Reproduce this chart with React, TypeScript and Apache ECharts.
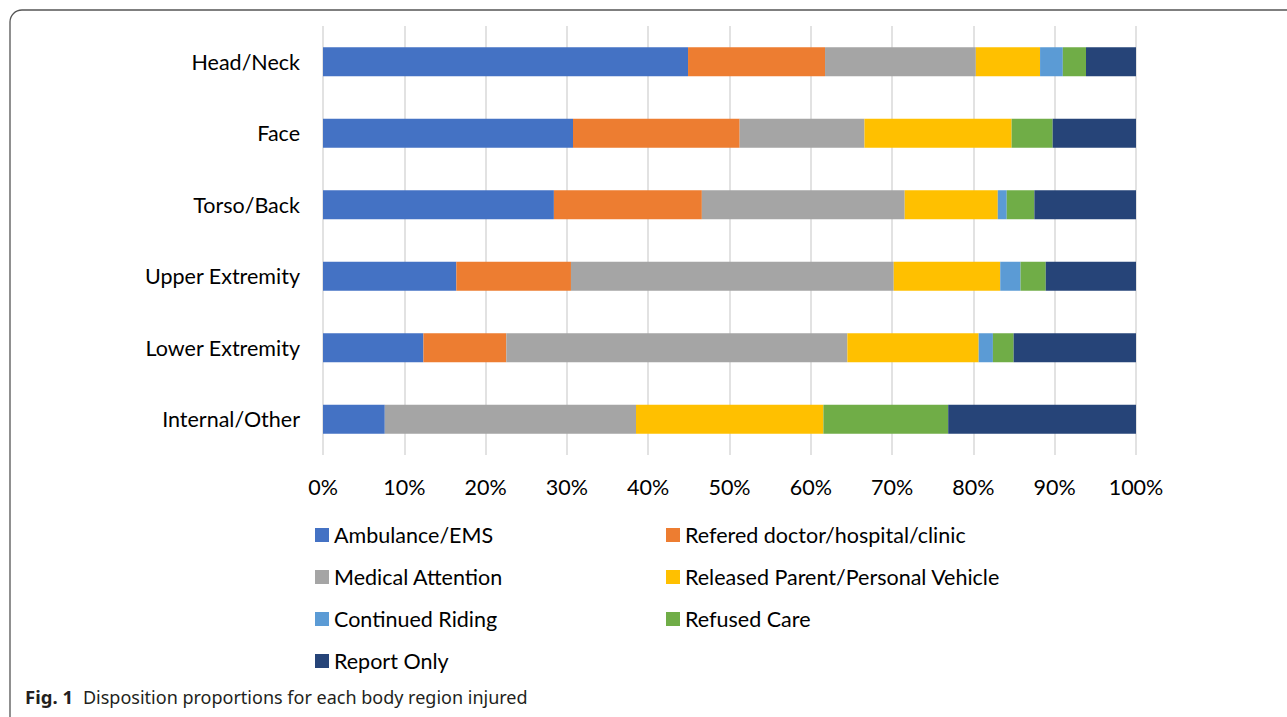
import React, { useEffect, useRef } from "react";
import * as echarts from "echarts";

const categories = ["Head/Neck", "Face", "Torso/Back", "Upper Extremity", "Lower Extremity", "Internal/Other"];
const seriesNames = [
  "Ambulance/EMS",
  "Refered doctor/hospital/clinic",
  "Medical Attention",
  "Released Parent/Personal Vehicle",
  "Continued Riding",
  "Refused Care",
  "Report Only",
];
const ambulance = [44.9, 30.75, 28.4, 16.4, 12.35, 7.6];
const refered = [16.85, 20.5, 18.2, 14.1, 10.2, 0];
const medical = [18.55, 15.35, 24.95, 39.7, 41.95, 30.9];
const released = [7.9, 18.1, 11.45, 13.1, 16.15, 23.05];
const continued = [2.8, 0, 1.1, 2.5, 1.75, 0];
const refused = [2.85, 5.05, 3.4, 3.1, 2.55, 15.35];
const reportOnly = [6.15, 10.25, 12.5, 11.1, 15.05, 23.1];
const xTicks = [0, 10, 20, 30, 40, 50, 60, 70, 80, 90, 100];

const colors = ["#4472C4", "#ED7D31", "#A5A5A5", "#FFC000", "#5B9BD5", "#70AD47", "#264478"];
const values = [ambulance, refered, medical, released, continued, refused, reportOnly];

const FONT = "Lato";

export default function App() {
  const ref = useRef<HTMLDivElement>(null);
  useEffect(() => {
    if (!ref.current) return;
    const chart = echarts.init(ref.current, null, { renderer: "svg" });
    const legendText = { fontFamily: FONT, fontSize: 21.5, color: "#000", lineHeight: 22 };
    chart.setOption({
      animation: false,
      backgroundColor: "#fff",
      grid: { left: 323, right: 151, top: 26, bottom: 262 },
      xAxis: {
        type: "value",
        min: xTicks[0],
        max: xTicks[xTicks.length - 1],
        interval: 10,
        axisLine: { show: false },
        axisTick: { show: false },
        axisLabel: { formatter: "{value}%", fontFamily: FONT, fontSize: 21.5, color: "#000", margin: 21 },
        splitLine: { show: true, lineStyle: { color: "#D9D9D9", width: 1.5 } },
      },
      yAxis: {
        type: "category",
        data: categories,
        inverse: true,
        axisLine: { show: false },
        axisTick: { show: false },
        axisLabel: { fontFamily: FONT, fontSize: 21.5, color: "#000", margin: 23 },
      },
      legend: [
        {
          orient: "vertical",
          left: 315,
          top: 524,
          padding: 0,
          itemWidth: 14,
          itemHeight: 14,
          itemGap: 20,
          icon: "rect",
          textStyle: legendText,
          data: [seriesNames[0], seriesNames[2], seriesNames[4], seriesNames[6]],
        },
        {
          orient: "vertical",
          left: 666,
          top: 524,
          padding: 0,
          itemWidth: 14,
          itemHeight: 14,
          itemGap: 20,
          icon: "rect",
          textStyle: legendText,
          data: [seriesNames[1], seriesNames[3], seriesNames[5]],
        },
      ],
      series: seriesNames.map((name, i) => ({
        name,
        type: "bar",
        stack: "total",
        barWidth: 29,
        itemStyle: { color: colors[i] },
        data: values[i],
      })),
      graphic: [
        {
          type: "rect",
          shape: { x: 10, y: 10, width: 1320, height: 740, r: 12 },
          style: { fill: "none", stroke: "#555", lineWidth: 1.3 },
          silent: true,
        },
        {
          type: "text",
          left: 25,
          top: 687,
          style: {
            text: "{b|Fig. 1}   {n|Disposition proportions for each body region injured}",
            rich: {
              b: { fontFamily: "Noto Sans", fontWeight: "bold", fontSize: 18.5, fill: "#231F20" },
              n: { fontFamily: "Noto Sans", fontSize: 18, fill: "#231F20" },
            },
          },
        },
      ],
    });
    return () => chart.dispose();
  }, []);
  return (
    <div
      ref={ref}
      style={{ position: "fixed", left: 0, top: 0, width: 1287, height: 717, background: "#fff" }}
    />
  );
}
